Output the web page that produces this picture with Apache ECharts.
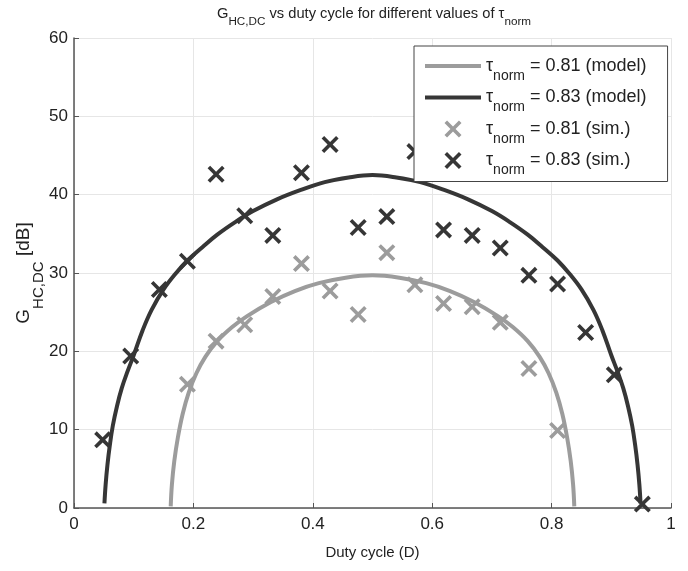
<!DOCTYPE html>
<html>
<head>
<meta charset="utf-8">
<script src="https://cdn.jsdelivr.net/npm/echarts@6/dist/echarts.min.js"></script>
<style>html,body{margin:0;padding:0;background:#fff;}#c{width:688px;height:571px;}</style>
</head>
<body>
<div id="c"></div>
<script>
// ---- data ----
const xTicks = [0, 0.2, 0.4, 0.6, 0.8, 1];
const yTicks = [0, 10, 20, 30, 40, 50, 60];

// model curves (D, G)
const model81D = [0.162,0.164,0.168,0.174,0.182,0.192,0.205,0.220,0.240,0.265,0.290,0.330,0.370,0.410,0.455,0.500,0.545,0.590,0.630,0.670,0.710,0.735,0.760,0.780,0.795,0.808,0.818,0.826,0.832,0.836,0.838];
const model81G = [0.2,3.0,6.0,9.0,12.0,14.7,17.2,19.3,21.3,23.1,24.5,26.3,27.7,28.7,29.4,29.7,29.4,28.7,27.7,26.3,24.5,23.1,21.3,19.3,17.2,14.7,12.0,9.0,6.0,3.0,0.2];
const model83D = [0.051,0.053,0.056,0.060,0.065,0.072,0.080,0.090,0.100,0.115,0.130,0.150,0.170,0.190,0.215,0.240,0.270,0.300,0.340,0.380,0.420,0.460,0.500,0.540,0.580,0.620,0.660,0.700,0.730,0.760,0.785,0.810,0.830,0.850,0.870,0.885,0.900,0.910,0.920,0.928,0.935,0.940,0.944,0.947,0.949];
const model83G = [0.6,3.0,5.5,8.0,10.5,13.0,15.3,17.5,19.5,22.7,25.3,27.9,29.9,31.6,33.3,34.9,36.5,37.9,39.4,40.6,41.6,42.2,42.5,42.2,41.6,40.6,39.4,37.9,36.5,34.9,33.3,31.6,29.9,27.9,25.3,22.7,19.5,17.5,15.3,13.0,10.5,8.0,5.5,3.0,0.6];

// simulation points
const sim83D = [0.048,0.095,0.143,0.190,0.238,0.286,0.333,0.381,0.429,0.476,0.524,0.571,0.619,0.667,0.714,0.762,0.810,0.857,0.905,0.952];
const sim83G = [8.7,19.4,27.9,31.5,42.6,37.3,34.8,42.8,46.4,35.8,37.2,45.5,35.5,34.8,33.2,29.7,28.6,22.4,17.0,0.5];
const sim81D = [0.190,0.238,0.286,0.333,0.381,0.429,0.476,0.524,0.571,0.619,0.667,0.714,0.762,0.810];
const sim81G = [15.8,21.3,23.4,27.0,31.2,27.7,24.7,32.6,28.5,26.1,25.7,23.7,17.8,9.9];

const legendText = {
  m81: ' = 0.81 (model)',
  m83: ' = 0.83 (model)',
  s81: ' = 0.81 (sim.)',
  s83: ' = 0.83 (sim.)'
};

const light = '#9c9c9c';
const dark = '#363636';
const xPath = 'path://M3,0 L10,7 L17,0 L20,3 L13,10 L20,17 L17,20 L10,13 L3,20 L0,17 L7,10 L0,3 Z';
const linePath = 'path://M0,0 L56,0 L56,4 L0,4 Z';

function zip(a, b) { return a.map((v, i) => [v, b[i]]); }

const FONT = 'Liberation Sans, Arial, sans-serif';
const TXT = '#222';

function richSet(main, sub, H) {
  return {
    g: { fontSize: main, color: TXT, fontFamily: FONT, lineHeight: H, verticalAlign: 'middle' },
    t: { fontSize: main, color: TXT, fontFamily: FONT, lineHeight: H, verticalAlign: 'middle' },
    sub: { fontSize: sub, color: TXT, fontFamily: FONT, lineHeight: H, verticalAlign: 'bottom' }
  };
}

const chart = echarts.init(document.getElementById('c'));
chart.setOption({
  animation: false,
  backgroundColor: '#fff',
  textStyle: { fontFamily: FONT },
  title: {
    text: '{g|G}{sub|HC,DC}{t| vs duty cycle for different values of τ}{sub|norm}',
    left: 374, top: 0, textAlign: 'center', padding: 0,
    textStyle: { fontWeight: 'normal', rich: richSet(14.7, 11.7, 28) }
  },
  grid: { left: 74, right: 17, top: 38, bottom: 63, containLabel: false },
  xAxis: {
    type: 'value', min: 0, max: 1, interval: 0.2,
    name: 'Duty cycle (D)', nameLocation: 'middle', nameGap: 37,
    nameTextStyle: { fontSize: 15, color: TXT, fontFamily: FONT },
    axisLine: { show: true, lineStyle: { color: '#555', width: 1.5 } },
    axisTick: { show: true, inside: true, length: 5, lineStyle: { color: '#555' } },
    axisLabel: { fontSize: 17, color: TXT, margin: 8, fontFamily: FONT,
      formatter: v => String(xTicks.find(t => Math.abs(t - v) < 1e-9) ?? v) },
    splitLine: { show: true, lineStyle: { color: '#e6e6e6', width: 1 } }
  },
  yAxis: {
    type: 'value', min: 0, max: 60, interval: 10,
    name: '{g|G}{sub|HC,DC}{t| [dB]}', nameLocation: 'middle', nameGap: 28, nameRotate: 90,
    nameMoveOverlap: false,
    nameTextStyle: { rich: richSet(19, 15, 45) },
    axisLine: { show: true, lineStyle: { color: '#555', width: 1.5 } },
    axisTick: { show: true, inside: true, length: 5, lineStyle: { color: '#555' } },
    axisLabel: { fontSize: 17, color: TXT, margin: 6, fontFamily: FONT,
      formatter: v => String(yTicks.find(t => t === v) ?? v) },
    splitLine: { show: true, lineStyle: { color: '#e6e6e6', width: 1 } }
  },
  legend: {
    orient: 'vertical',
    left: 414, top: 46,
    padding: [11, 21, 4, 11],
    itemGap: 5.5,
    itemWidth: 56, itemHeight: 17,
    symbolKeepAspect: true,
    backgroundColor: '#fff',
    borderColor: '#444', borderWidth: 1,
    data: [
      { name: 'm81', icon: linePath },
      { name: 'm83', icon: linePath },
      { name: 's81' },
      { name: 's83' }
    ],
    formatter: n => '{g|τ}{sub|norm}{t|' + legendText[n] + '}',
    textStyle: { rich: richSet(18, 14, 34) }
  },
  series: [
    { name: 'm81', type: 'line', data: zip(model81D, model81G), smooth: 0.4, symbol: 'none',
      lineStyle: { color: light, width: 4 }, itemStyle: { color: light }, z: 2 },
    { name: 'm83', type: 'line', data: zip(model83D, model83G), smooth: 0.4, symbol: 'none',
      lineStyle: { color: dark, width: 4 }, itemStyle: { color: dark }, z: 2 },
    { name: 's81', type: 'scatter', data: zip(sim81D, sim81G), symbol: xPath, symbolSize: 17,
      symbolKeepAspect: true, itemStyle: { color: light, opacity: 1 }, z: 3 },
    { name: 's83', type: 'scatter', data: zip(sim83D, sim83G), symbol: xPath, symbolSize: 17,
      symbolKeepAspect: true, itemStyle: { color: dark, opacity: 1 }, z: 3 }
  ]
});
</script>
</body>
</html>
